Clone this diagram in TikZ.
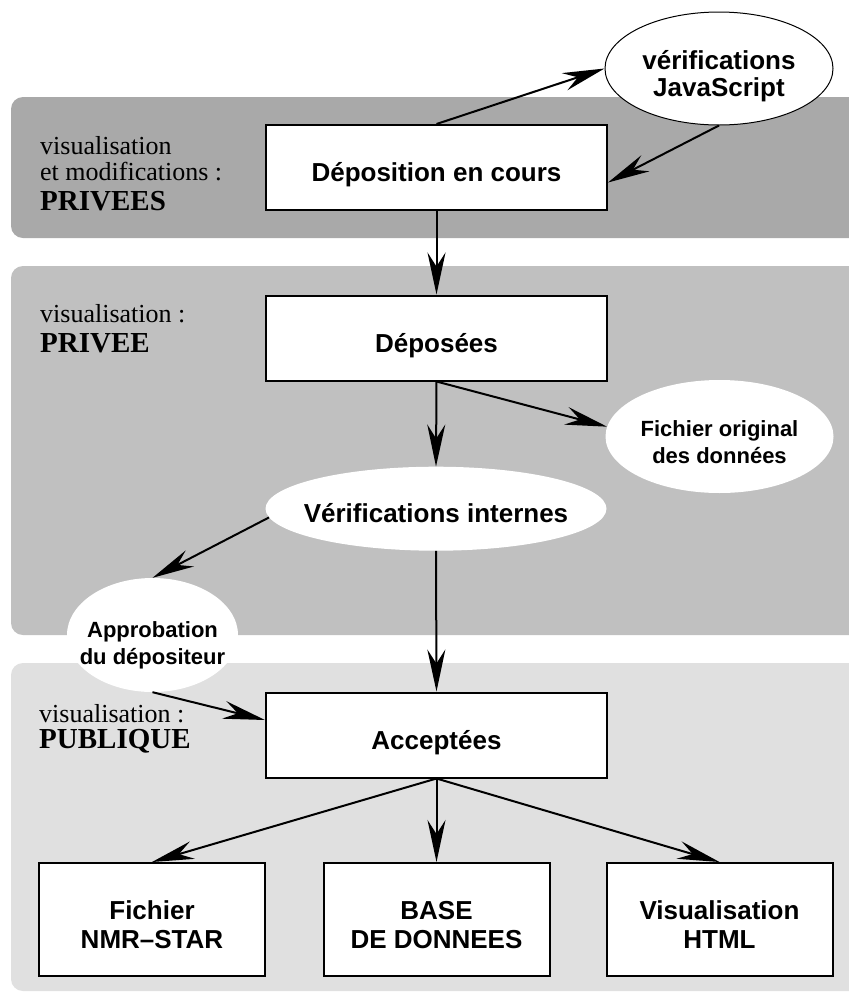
\documentclass[tikz,border=0pt]{standalone}
\usepackage{fontspec}
\setmainfont{Liberation Serif}
\newfontfamily\hsans{Liberation Sans}
\usetikzlibrary{shapes.geometric,arrows.meta}
\definecolor{bandA}{RGB}{169,169,169}
\definecolor{bandB}{RGB}{192,192,192}
\definecolor{bandC}{RGB}{224,224,224}
\newcommand\fbig{\hsans\bfseries\fontsize{26}{27}\selectfont}
\newcommand\fbigb{\hsans\bfseries\fontsize{26}{29}\selectfont}
\newcommand\fsml{\hsans\bfseries\fontsize{22}{27}\selectfont}
\newcommand\flab{\fontsize{26}{28}\selectfont}
\newcommand\flabb{\bfseries\fontsize{29}{30}\selectfont}
\begin{document}
\begin{tikzpicture}[x=1pt, y=-1pt,
  arr/.style={line width=2pt, -{Stealth[length=42pt,width=18pt,inset=14pt]}},
  boxn/.style={draw, line width=2pt, fill=white, inner sep=0pt, align=center},
  bigbox/.style={boxn, minimum width=341pt, minimum height=85pt, font=\fbig, text height=28.6pt, text depth=0pt},
  smallbox/.style={boxn, minimum width=226pt, minimum height=113pt, font=\fbigb, text height=57.6pt, text depth=0pt},
  oval/.style={ellipse, inner sep=0pt, fill=white},
  lab/.style={inner sep=0pt, anchor=base west, font=\flab},
  labb/.style={inner sep=0pt, anchor=base west, font=\flabb}]
\useasboundingbox (0,0) rectangle (849,997);
\clip (0,0) rectangle (849,997);
\fill[white] (0,0) rectangle (849,997);
% bands
\fill[bandA, rounded corners=12pt] (11,97) rectangle (880,238);
\fill[bandB, rounded corners=12pt] (11,266) rectangle (880,635);
\fill[bandC, rounded corners=12pt] (11,663) rectangle (880,991);
% band labels
\node[lab]  (t1) at (40,154) {visualisation};
\node[lab]  (t2) at (40,180) {et modifications :};
\node[labb] (t3) at (40,210) {PRIVEES};
\node[lab]  (m1) at (40,322) {visualisation :};
\node[labb] (m2) at (40,352) {PRIVEE};
\node[lab]  (b1) at (39,722) {visualisation :};
\node[labb] (b2) at (39,748) {PUBLIQUE};
% nodes
\node[bigbox] (dep) at (436.5,167.5) {Déposition en cours};
\node[oval, draw, line width=1pt, minimum width=228pt, minimum height=113pt,
  label={[font=\fbig, align=center, inner sep=0pt, text height=56.6pt, text depth=0pt]center:vérifications\\JavaScript}] (js) at (719,68.5) {};
\node[bigbox] (deps) at (436.5,338) {Déposées};
\node[oval, minimum width=341pt, minimum height=84pt,
  label={[font=\fbig, inner sep=0pt, text height=27.6pt, text depth=0pt]center:Vérifications internes}] (verif) at (436,508.7) {};
\node[oval, minimum width=228pt, minimum height=113pt,
  label={[font=\fsml, align=center, inner sep=0pt, text height=53.75pt, text depth=0pt]center:Fichier original\\des données}] (fich) at (719.5,436.5) {};
\node[oval, minimum width=171pt, minimum height=114pt,
  label={[font=\fsml, align=center, inner sep=0pt, text height=58.75pt, text depth=0pt]center:Approbation\\du dépositeur}] (appro) at (152.5,635) {};
\node[bigbox] (acc) at (436.5,735) {Acceptées};
\node[smallbox] (nmr) at (152,919.5) {Fichier\\NMR–STAR};
\node[smallbox] (base) at (436.5,919.5) {BASE\\DE DONNEES};
\node[smallbox] (html) at (719.5,919.5) {Visualisation\\HTML};
% connectors
\draw[arr] (dep.north) -- (js.west);
\draw[arr] (js.south) -- (dep.-5);
\draw[arr] (dep.south) -- (deps.north);
\draw[arr] (deps.south) -- (fich.175);
\draw[arr] (deps.south) -- (verif.north);
\draw[arr] (verif.183) -- (appro.north);
\draw[arr] (verif.south) -- (acc.north);
\draw[arr] (appro.south) -- (acc.175);
\draw[arr] (acc.south) -- (nmr.north);
\draw[arr] (acc.south) -- (base.north);
\draw[arr] (acc.south) -- (html.north);
\end{tikzpicture}
\end{document}
